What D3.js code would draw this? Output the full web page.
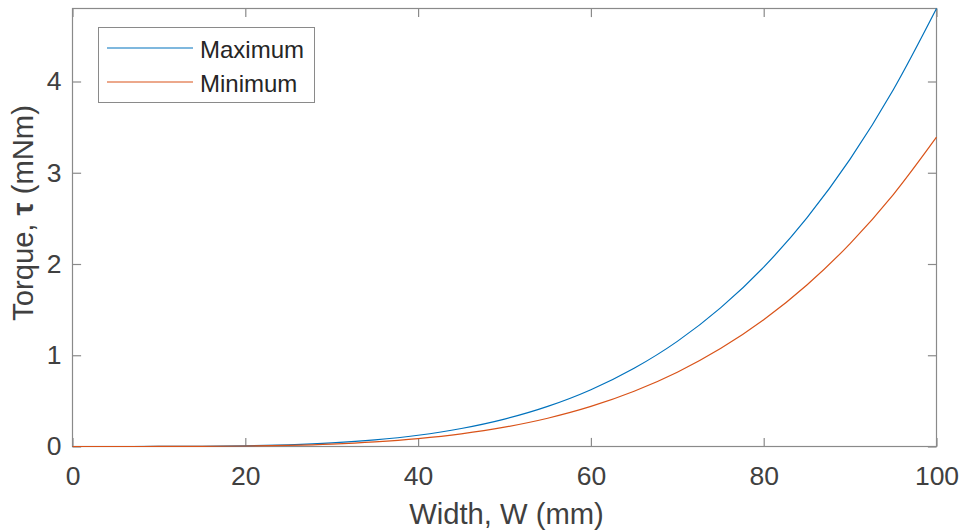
<!DOCTYPE html>
<html>
<head>
<meta charset="utf-8">
<script src="https://cdn.jsdelivr.net/npm/d3@7"></script>
<style>
  html, body { margin: 0; padding: 0; background: #ffffff; }
  svg { display: block; font-family: "Liberation Sans", Arial, Helvetica, sans-serif; }
</style>
</head>
<body>
<svg id="chart" width="959" height="531"></svg>
<script>
// Width samples (mm) and torque (mNm) for the two cases
const widths = [0, 5, 10, 15, 20, 25, 30, 35, 40, 45, 50, 55, 60, 65, 70, 75, 80, 85, 90, 95, 100];
const torqueMax = [0, 0.00003, 0.0005, 0.0024, 0.0077, 0.019, 0.039, 0.072, 0.123, 0.197, 0.300,
                   0.439, 0.622, 0.857, 1.152, 1.519, 1.966, 2.506, 3.149, 3.910, 4.800];
const torqueMin = [0, 0.00002, 0.0003, 0.0017, 0.0054, 0.013, 0.027, 0.051, 0.087, 0.139, 0.212,
                   0.310, 0.439, 0.605, 0.814, 1.073, 1.389, 1.770, 2.224, 2.761, 3.390];
const seriesNames = ["Maximum", "Minimum"];
const seriesColors = ["#0072BD", "#D95319"];
const xTicks = [0, 20, 40, 60, 80, 100];
const yTicks = [0, 1, 2, 3, 4];

const svg = d3.select("#chart");
const plotLeft = 72.5, plotRight = 936.5, plotTop = 8.5, plotBottom = 446.5;
const textColor = "#404040";
const axisColor = "#8a8a8a";
const tickLen = 8.6;
const tickFont = 26.5, labelFont = 29.2, legendFont = 24;

const x = d3.scaleLinear().domain([0, 100]).range([plotLeft, plotRight]);
const y = d3.scaleLinear().domain([0, d3.max(torqueMax)]).range([plotBottom, plotTop]);

// Plot box
svg.append("rect")
  .attr("x", plotLeft).attr("y", plotTop)
  .attr("width", plotRight - plotLeft).attr("height", plotBottom - plotTop)
  .attr("fill", "#fff").attr("stroke", axisColor).attr("stroke-width", 1.2);

function styleAxis(g) {
  g.select(".domain").remove();
  g.selectAll(".tick line").attr("stroke", axisColor).attr("stroke-width", 1.2);
  g.selectAll(".tick text")
    .attr("fill", textColor)
    .attr("font-size", tickFont)
    .attr("font-family", "Liberation Sans, Arial, sans-serif");
}

svg.append("g").attr("transform", `translate(0,${plotBottom})`)
  .call(d3.axisBottom(x).tickValues(xTicks).tickFormat(d3.format("d"))
        .tickSizeInner(-tickLen).tickSizeOuter(0).tickPadding(19.5))
  .call(styleAxis);

svg.append("g").attr("transform", `translate(0,${plotTop})`)
  .call(d3.axisTop(x).tickValues(xTicks).tickFormat("")
        .tickSizeInner(-tickLen).tickSizeOuter(0))
  .call(styleAxis);

svg.append("g").attr("transform", `translate(${plotLeft},0)`)
  .call(d3.axisLeft(y).tickValues(yTicks).tickFormat(d3.format("d"))
        .tickSizeInner(-tickLen).tickSizeOuter(0).tickPadding(11))
  .call(styleAxis);

svg.append("g").attr("transform", `translate(${plotRight},0)`)
  .call(d3.axisRight(y).tickValues(yTicks).tickFormat("")
        .tickSizeInner(-tickLen).tickSizeOuter(0))
  .call(styleAxis);

// Curves
const line = d3.line()
  .x((d, i) => x(widths[i]))
  .y(d => y(d))
  .curve(d3.curveMonotoneX);

[torqueMax, torqueMin].forEach((vals, k) => {
  svg.append("path")
    .datum(vals)
    .attr("d", line)
    .attr("fill", "none")
    .attr("stroke", seriesColors[k])
    .attr("stroke-width", 1.2);
});

// Axis labels
svg.append("text")
  .attr("x", (plotLeft + plotRight) / 2 + 2).attr("y", 524)
  .attr("text-anchor", "middle")
  .attr("font-size", labelFont)
  .attr("fill", textColor)
  .text("Width, W (mm)");

const yl = svg.append("text")
  .attr("transform", "translate(33,213) rotate(-90)")
  .attr("text-anchor", "middle")
  .attr("font-size", labelFont)
  .attr("fill", textColor);
yl.append("tspan").text("Torque, ");
yl.append("tspan").attr("font-weight", "bold").text("τ");
yl.append("tspan").text(" (mNm)");

// Legend
const leg = svg.append("g");
leg.append("rect")
  .attr("x", 98.5).attr("y", 27.5).attr("width", 216).attr("height", 75)
  .attr("fill", "#fff").attr("stroke", axisColor).attr("stroke-width", 1);
seriesNames.forEach((name, k) => {
  const ly = 48 + k * 34;
  leg.append("line")
    .attr("x1", 107).attr("x2", 193).attr("y1", ly).attr("y2", ly)
    .attr("stroke", seriesColors[k]).attr("stroke-width", 1.2);
  leg.append("text")
    .attr("x", 200).attr("y", ly + 10)
    .attr("font-size", legendFont)
    .attr("fill", "#262626")
    .text(name);
});
</script>
</body>
</html>
